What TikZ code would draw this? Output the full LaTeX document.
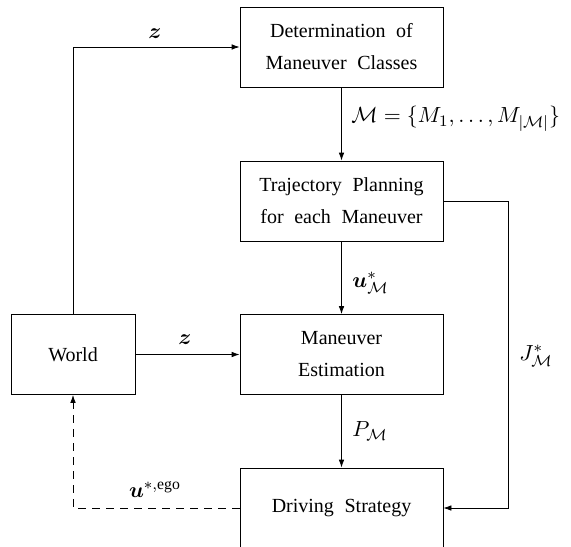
\documentclass[tikz,border=0pt]{standalone}
\usepackage{fontspec}
\setmainfont{Liberation Serif}
\usepackage{amsmath,bm}
\usetikzlibrary{arrows.meta}
\begin{document}
\begin{tikzpicture}[x=0.5pt,y=-0.5pt,
  box/.style={draw,thin,minimum width=101.5pt,minimum height=40pt,inner sep=0pt,align=center,font={\fontsize{10}{16}\selectfont\spaceskip=5.3pt\relax}},
  wbox/.style={box,minimum width=62pt},
  arr/.style={thin,-{Latex[length=4pt,width=2.8pt]}},
  dasharr/.style={arr,dashed,dash pattern=on 4pt off 3pt},
  lbl/.style={inner sep=0pt,font=\fontsize{11.25}{13}\selectfont}]
\useasboundingbox (0,0) rectangle (571,546);
\node[box] (dmc) at (341.5,47) {Determination of\\Maneuver Classes};
\node[box] (tp) at (341.5,201) {Trajectory Planning\\for each Maneuver};
\node[box] (me) at (341.5,354.5) {Maneuver\\Estimation};
\node[box] (ds) at (341.5,508) {Driving Strategy};
\node[wbox] (w) at (73,354.5) {World};
\coordinate (c1) at (73,47);
\coordinate (c2) at (508,201);
\coordinate (c3) at (508,508);
\coordinate (c4) at (73,508);
\draw[arr] (w.north) -- (c1) -- (dmc.west);
\draw[arr] (dmc) -- (tp);
\draw[arr] (tp) -- (me);
\draw[arr] (w) -- (me);
\draw[arr] (me) -- (ds);
\draw[arr] (tp.east) -- (c2) -- (c3) -- (ds.east);
\draw[dasharr] (ds.west) -- (c4) -- (w.south);
\node[lbl] (lz1) at (155,34) {$\bm{z}$};
\node[lbl] (lz2) at (185,340) {$\bm{z}$};
\node[lbl,anchor=west] (lm) at (351,119) {$\mathcal{M}=\{M_1,\dots,M_{|\mathcal{M}|}\}$};
\node[lbl,anchor=west] (lu) at (352,283) {$\bm{u}^*_{\mathcal{M}}$};
\node[lbl,anchor=west] (lp) at (352,431) {$P_{\mathcal{M}}$};
\node[lbl] (lj) at (536,356) {$J^*_{\mathcal{M}}$};
\node[lbl] (le) at (155,489) {$\bm{u}^{*,\mathrm{ego}}$};
\end{tikzpicture}
\end{document}
